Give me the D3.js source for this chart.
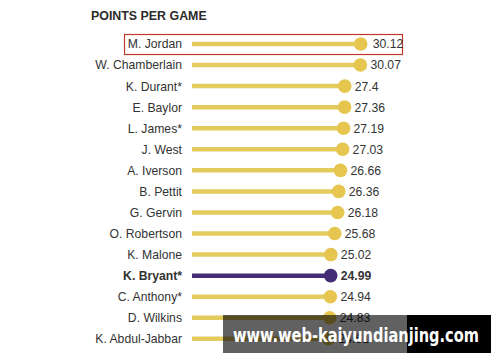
<!DOCTYPE html>
<html>
<head>
<meta charset="utf-8">
<script src="https://cdn.jsdelivr.net/npm/d3@7"></script>
<style>
  body { margin: 0; background: #fff; }
</style>
</head>
<body>
<div id="app"></div>
<script>
// Data
const players = ['M. Jordan', 'W. Chamberlain', 'K.  Durant*', 'E. Baylor', 'L. James*', 'J. West',
  'A. Iverson', 'B. Pettit', 'G. Gervin', 'O. Robertson', 'K. Malone', 'K. Bryant*',
  'C. Anthony*', 'D.  Wilkins', 'K. Abdul-Jabbar'];
const ppg = [30.12, 30.07, 27.4, 27.36, 27.19, 27.03, 26.66, 26.36, 26.18, 25.68, 25.02, 24.99, 24.94, 24.83, 24.61];
const valueLabels = ['30.12', '30.07', '27.4', '27.36', '27.19', '27.03', '26.66', '26.36', '26.18', '25.68', '25.02', '24.99', '24.94', '24.83', '24.61'];
const highlight = 'K. Bryant*';
const boxed = 'M. Jordan';

const width = 500, height = 362;
const font = '"Liberation Sans", Arial, sans-serif';

const svg = d3.select('#app').append('svg')
    .attr('width', width)
    .attr('height', height)
    .style('display', 'block');

const x = d3.scaleLinear().domain([0, 30.12]).range([184.5, 360.7]);
const y = d3.scalePoint().domain(players).range([44, 338.8]);
const lineStart = 192;

// title
svg.append('text')
    .attr('x', 91)
    .attr('y', 20)
    .attr('fill', '#2b2b2b')
    .style('font-family', font)
    .style('font-weight', 'bold')
    .style('font-size', '12.4px')
    .text('POINTS PER GAME');

// red box round the top row
svg.append('rect')
    .attr('x', 124.5)
    .attr('y', y(boxed) - 9.5)
    .attr('width', 278)
    .attr('height', 20)
    .attr('fill', 'none')
    .attr('stroke', '#c0392b')
    .attr('stroke-width', 1.2);

const rows = svg.selectAll('g.row')
    .data(players.map((p, i) => ({ name: p, v: ppg[i], label: valueLabels[i] })))
    .enter().append('g')
    .attr('class', 'row')
    .attr('transform', d => `translate(0, ${y(d.name)})`);

rows.append('line')
    .attr('x1', lineStart)
    .attr('x2', d => x(d.v))
    .attr('stroke', d => d.name === highlight ? '#432d74' : '#e4cb5e')
    .attr('stroke-width', 4.5);

rows.append('circle')
    .attr('cx', d => x(d.v))
    .attr('r', 6.8)
    .attr('fill', d => d.name === highlight ? '#432d74' : '#e6c64f');

rows.append('text')
    .attr('x', 182)
    .attr('dy', '0.36em')
    .attr('text-anchor', 'end')
    .attr('fill', '#333')
    .style('font-family', font)
    .style('font-size', '12.2px')
    .style('font-weight', d => d.name === highlight ? 'bold' : 'normal')
    .text(d => d.name);

rows.append('text')
    .attr('x', d => x(d.v) + (d.name === boxed ? 12 : 10))
    .attr('dy', '0.36em')
    .attr('fill', '#333')
    .style('font-family', font)
    .style('font-size', '12.2px')
    .style('font-weight', d => d.name === highlight ? 'bold' : 'normal')
    .text(d => d.label);

// watermark banner
svg.append('rect')
    .attr('x', 223).attr('y', 315)
    .attr('width', 184).attr('height', 38)
    .attr('fill', 'rgba(0,0,0,0.62)');
svg.append('rect')
    .attr('x', 407).attr('y', 315)
    .attr('width', 84).attr('height', 38)
    .attr('fill', '#000');
svg.append('text')
    .attr('x', 233)
    .attr('y', 342)
    .attr('fill', '#fff')
    .style('font-family', '"DejaVu Sans", sans-serif')
    .style('font-weight', 'bold')
    .style('font-size', '20px')
    .attr('textLength', 246)
    .attr('lengthAdjust', 'spacingAndGlyphs')
    .text('www.web-kaiyundianjing.com');
</script>
</body>
</html>
